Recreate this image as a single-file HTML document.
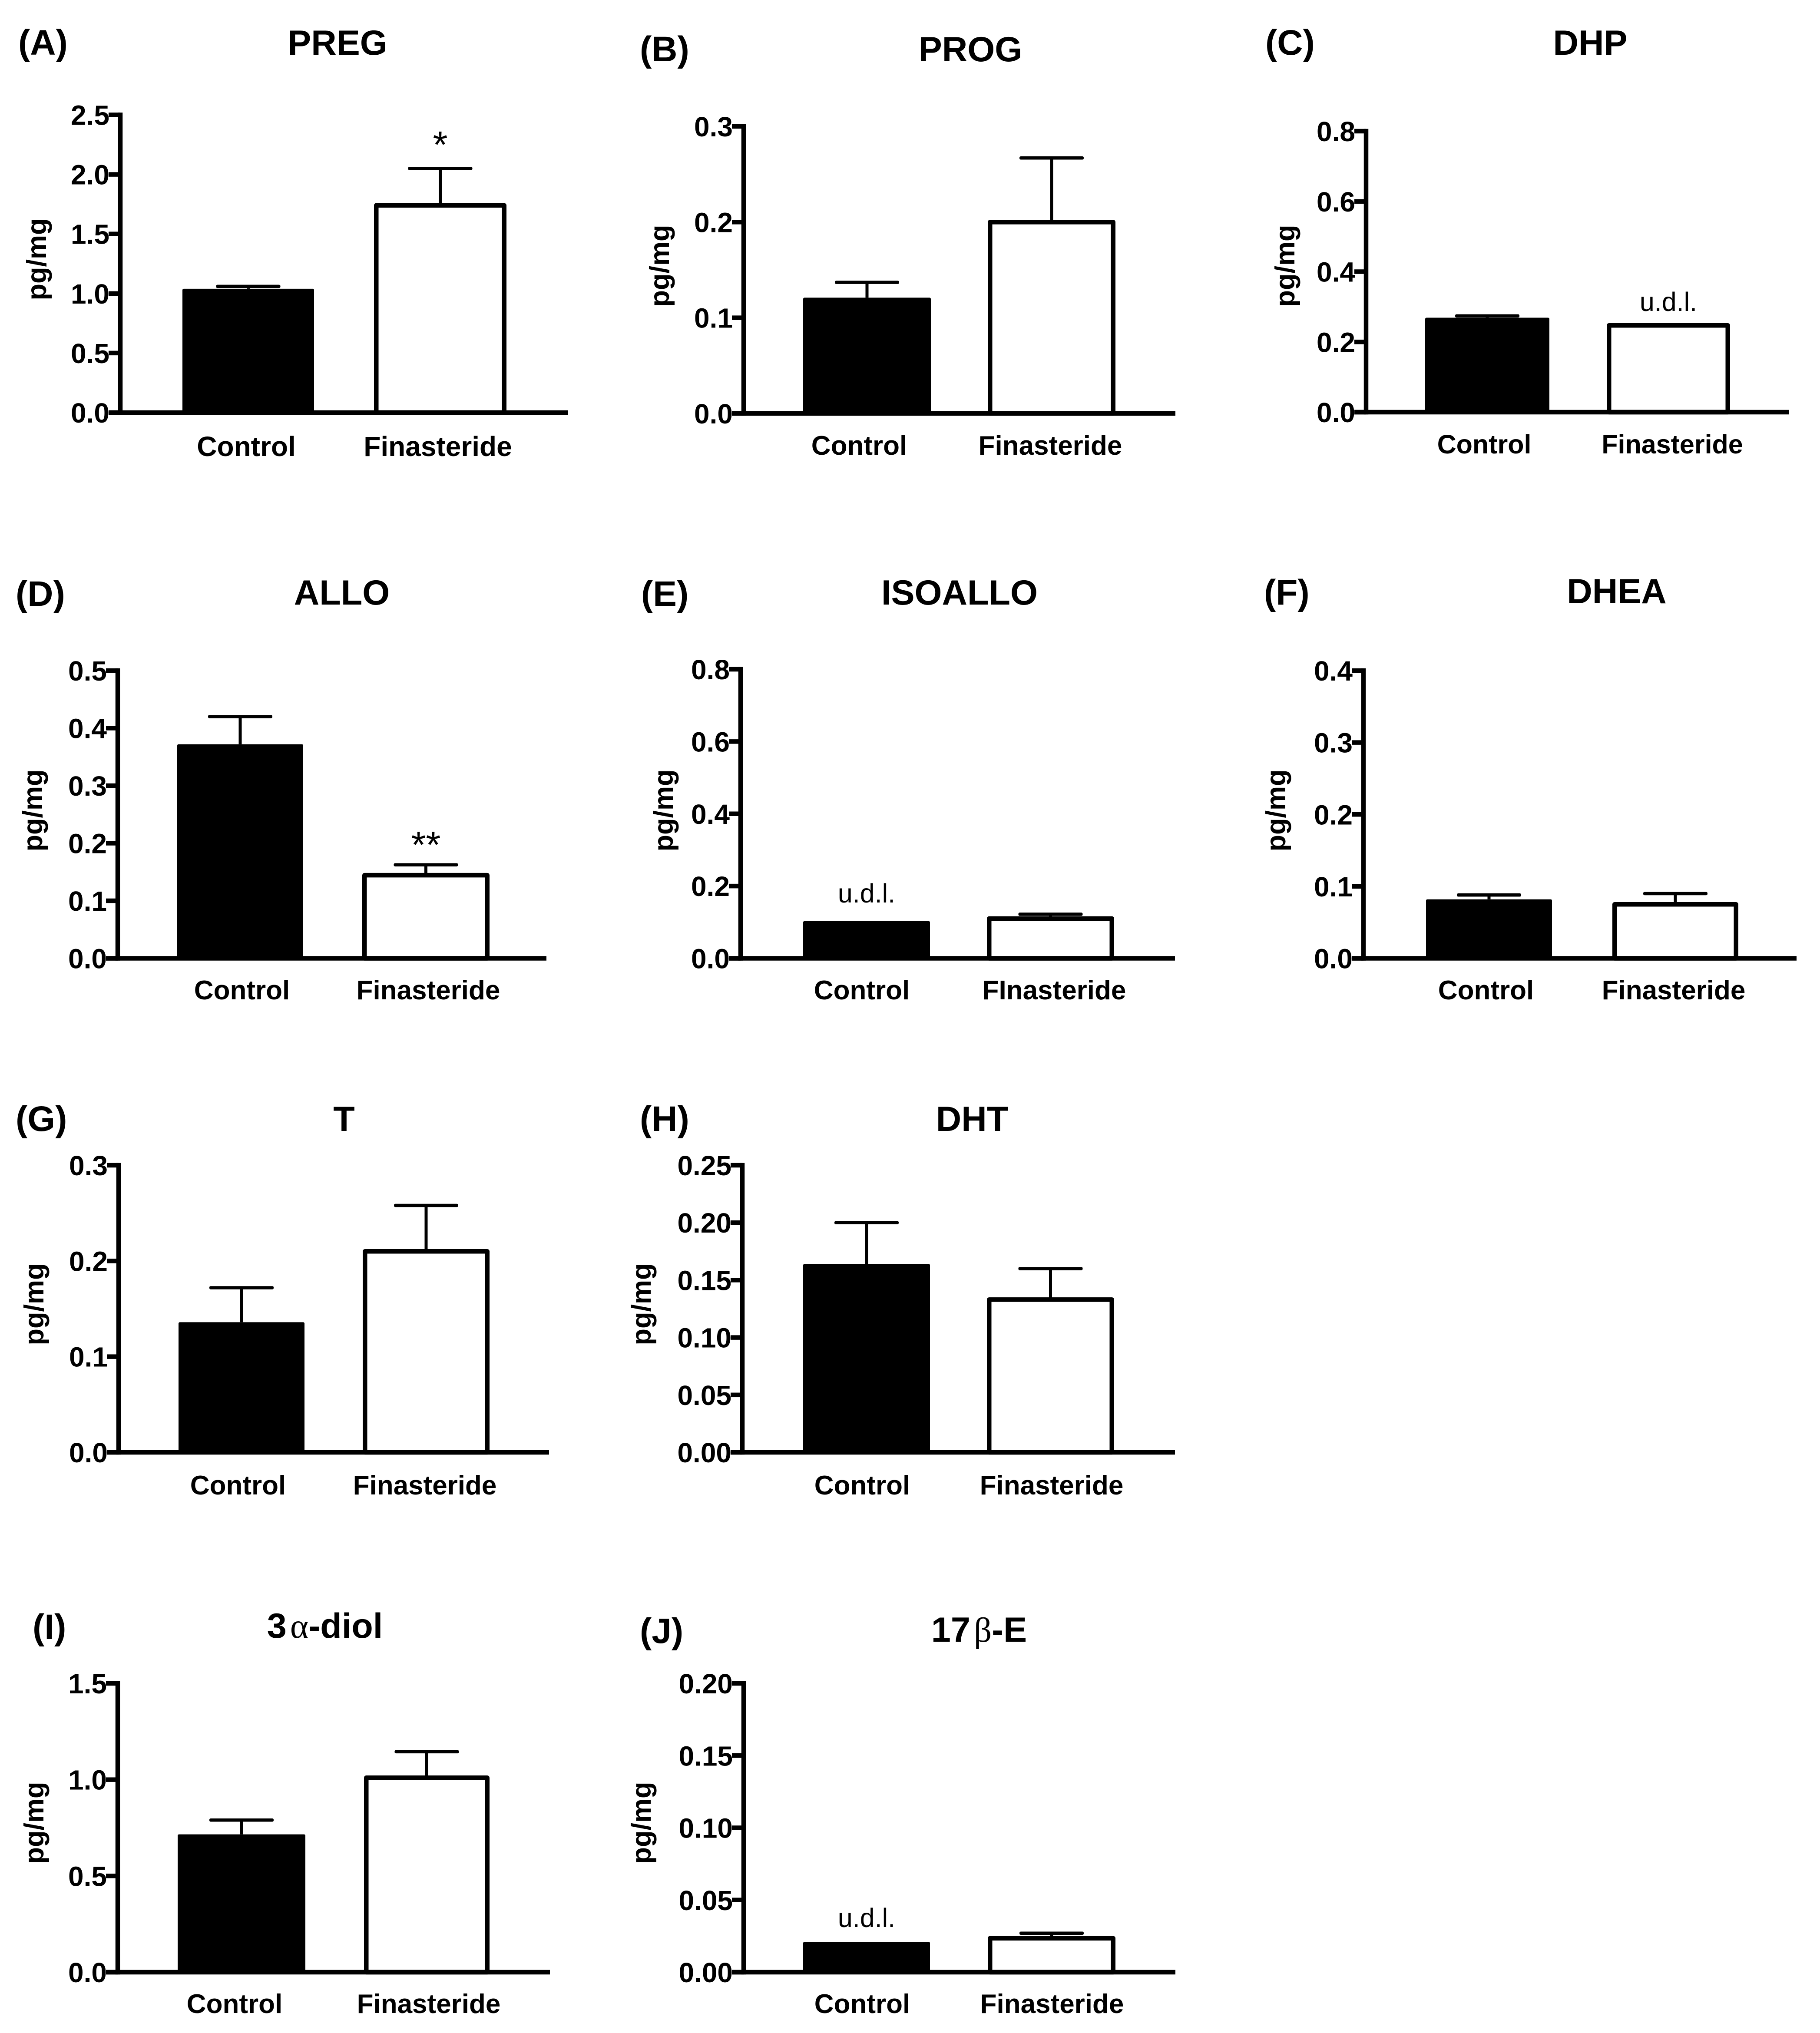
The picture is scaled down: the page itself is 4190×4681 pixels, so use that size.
<!DOCTYPE html>
<html lang="en">
<head>
<meta charset="utf-8">
<title>Neuroactive steroid levels: Control vs Finasteride</title>
<style>
html,body{margin:0;padding:0;background:#fff;}
svg{display:block;}
text{font-family:"Liberation Sans",sans-serif;fill:#000;}
.b{font-weight:700;}
</style>
</head>
<body>
<svg id="figure" xmlns="http://www.w3.org/2000/svg" width="4190" height="4681" viewBox="0 0 4190 4681"></svg>
<script>
// ---- data ----
const panelLetters = ['(A)','(B)','(C)','(D)','(E)','(F)','(G)','(H)','(I)','(J)'];
const panelTitles = ['PREG','PROG','DHP','ALLO','ISOALLO','DHEA','T','DHT','3|α|-diol','17|β|-E'];
const controlLabels = ['Control','Control','Control','Control','Control','Control','Control','Control','Control','Control'];
const finasterideLabels = ['Finasteride','Finasteride','Finasteride','Finasteride','FInasteride','Finasteride','Finasteride','Finasteride','Finasteride','Finasteride'];
const controlValues = [1.04,0.121,0.269,0.372,0.103,0.082,0.136,0.164,0.716,0.021];
const controlErrorTops = [1.06,0.137,0.274,0.42,null,0.088,0.172,0.2,0.79,null];
const finasterideValues = [1.74,0.2,0.247,0.1444,0.11,0.075,0.21,0.133,1.01,0.0235];
const finasterideErrorTops = [2.05,0.267,null,0.1625,0.122,0.09,0.258,0.16,1.145,0.027];
const axisMaxes = [2.5,0.3,0.8,0.5,0.8,0.4,0.3,0.25,1.5,0.2];
const tickLabels = [
  ['0.0','0.5','1.0','1.5','2.0','2.5'],
  ['0.0','0.1','0.2','0.3'],
  ['0.0','0.2','0.4','0.6','0.8'],
  ['0.0','0.1','0.2','0.3','0.4','0.5'],
  ['0.0','0.2','0.4','0.6','0.8'],
  ['0.0','0.1','0.2','0.3','0.4'],
  ['0.0','0.1','0.2','0.3'],
  ['0.00','0.05','0.10','0.15','0.20','0.25'],
  ['0.0','0.5','1.0','1.5'],
  ['0.00','0.05','0.10','0.15','0.20']
];
const controlMarks = ['','','','','u.d.l.','','','','','u.d.l.'];
const finasterideMarks = ['*','','u.d.l.','**','','','','','',''];

// ---- layout (separate from the data) ----
const axisX   = [277,1712,3145,271,1705,3139,273,1709,271,1712];
const baseY   = [950,952,949,2206.5,2206.5,2206.5,3344,3344,4541,4541];
const topY    = [264.5,291,302,1544,1541,1544,2683,2683,3876,3876];
const xEnd    = [1308,2706,4118,1258,2705,4136,1264,2705,1266,2706];
const blackL  = [420,1849,3281,408,1849,3283,411,1849,409,1849];
const blackR  = [723,2143,3567,698,2141,3573,701,2141,703,2141];
const whiteL  = [861,2274,3699,834,2272,3712,835,2272,838,2274];
const whiteR  = [1166,2568,3983,1127,2565,4002,1127,2565,1127,2568];
const letterX = [42,1473,2913,36,1476,2910,36,1473,75,1473];
const letterY = [98,113,98,1367,1367,1364,2576,2576,3746,3755];
const titleX  = [777,2234,3661,787,2209,3722,792,2238,748,2254];
const titleY  = [98,113,98,1364,1364,1361,2576,2576,3743,3752];
const ctlLabX = [567,1978,3417,557,1984,3421,548,1985,540,1985];
const finLabX = [1008,2418,3850,986,2427,3853,978,2421,987,2422];
const xLabY   = [1027,1024,1021,2278,2278,2278,3418,3418,4612,4612];
const xLabSize = [64,62,61,62,62,62,62,62,62,62];
const yLabX   = [90,1524,2964,81,1533,2943,84,1482,84,1482];
const yLabY   = [597,612,612,1866,1866,1866,3003,3003,4197,4197];
const markGap = [25,0,33,16,43,0,0,0,0,34];
const AXIS_W = 10.5, TICK_LEN = 27, ERR_W = 7, CAP_W = 7.5, CAP_LEN = 148;

const svg = document.getElementById('figure');
const NS = 'http://www.w3.org/2000/svg';
function make(tag, parent, attrs){
  const el = document.createElementNS(NS, tag);
  for (const k in attrs) el.setAttribute(k, attrs[k]);
  parent.appendChild(el);
  return el;
}
function yScale(i, v){
  return baseY[i] - (v / axisMaxes[i]) * (baseY[i] - topY[i]);
}
function drawError(g, i, cx, value, top, label){
  if (top === null) return;
  const yTop = yScale(i, value), yCap = yScale(i, top);
  const stem = make('rect', g, {x: cx - ERR_W/2, y: yCap, width: ERR_W, height: yTop - yCap, fill: '#000'});
  
  
  const cap = make('rect', g, {x: cx - CAP_LEN/2, y: yCap - CAP_W/2, width: CAP_LEN, height: CAP_W, rx: 3, fill: '#000'});
  
  
}
function drawMark(g, i, cx, text, value, top, label){
  if (!text) return;
  const y = yScale(i, top === null ? value : top) - markGap[i];
  if (text === 'u.d.l.'){
    const t = make('text', g, {x: cx, y: y, 'text-anchor': 'middle', 'font-size': 61});
    t.textContent = text;
    
    
  } else {
    const t = make('text', g, {x: cx, y: y, 'text-anchor': 'middle', 'font-size': 87});
    t.textContent = text;
    
    
  }
}
panelTitles.forEach(function(title, i){
  const plain = title.replace(/\|/g, '');
  const g = make('g', svg, {});
  
  

  const letter = make('text', g, {x: letterX[i], y: letterY[i] + 28, 'font-size': 82, class: 'b'});
  letter.textContent = panelLetters[i];
  
  

  const titleEl = make('text', g, {x: titleX[i], y: titleY[i] + 28, 'text-anchor': 'middle', 'font-size': 81, class: 'b'});
  
  
  title.split('|').forEach(function(part, k){
    const s = make('tspan', titleEl, {});
    s.textContent = part;
    if (k === 1){
      s.setAttribute('style', 'font-family:"Liberation Serif",serif;font-weight:400;');
      s.setAttribute('dx', '8');
    }
  });

  // bars
  const cb = make('rect', g, {x: blackL[i], y: yScale(i, controlValues[i]), width: blackR[i]-blackL[i], height: baseY[i]-yScale(i, controlValues[i]), rx: 3, fill: '#000'});
  
  
  const cx1 = (blackL[i]+blackR[i])/2, cx2 = (whiteL[i]+whiteR[i])/2;
  drawError(g, i, cx1, controlValues[i], controlErrorTops[i], 'control');
  drawError(g, i, cx2, finasterideValues[i], finasterideErrorTops[i], 'finasteride');
  const fy = yScale(i, finasterideValues[i]);
  const fb = make('rect', g, {x: whiteL[i]+AXIS_W/2, y: fy, width: whiteR[i]-whiteL[i]-AXIS_W, height: baseY[i]-fy, fill: '#fff', stroke: '#000', 'stroke-width': AXIS_W, 'stroke-linejoin': 'round'});
  
  
  drawMark(g, i, cx1, controlMarks[i], controlValues[i], controlErrorTops[i], 'control');
  drawMark(g, i, cx2, finasterideMarks[i], finasterideValues[i], finasterideErrorTops[i], 'finasteride');

  // axes
  const ya = make('rect', g, {x: axisX[i]-AXIS_W/2, y: topY[i]-AXIS_W/2, width: AXIS_W, height: baseY[i]-topY[i]+AXIS_W, fill: '#000'});
  
  
  const xa = make('rect', g, {x: axisX[i]-TICK_LEN, y: baseY[i]-AXIS_W/2, width: xEnd[i]-axisX[i]+TICK_LEN, height: AXIS_W, fill: '#000'});
  
  

  tickLabels[i].forEach(function(label){
    const y = yScale(i, Number(label));
    const tick = make('rect', g, {x: axisX[i]-TICK_LEN, y: y-AXIS_W/2, width: TICK_LEN, height: AXIS_W, fill: '#000'});
    
    
    const t = make('text', g, {x: axisX[i]-TICK_LEN+2, y: y+23, 'text-anchor': 'end', 'font-size': 64, class: 'b'});
    t.textContent = label;
    
    
  });

  const c = make('text', g, {x: ctlLabX[i], y: xLabY[i]+23, 'text-anchor': 'middle', 'font-size': xLabSize[i], class: 'b'});
  c.textContent = controlLabels[i];
  
  
  const f = make('text', g, {x: finLabX[i], y: xLabY[i]+23, 'text-anchor': 'middle', 'font-size': xLabSize[i], class: 'b'});
  f.textContent = finasterideLabels[i];
  
  

  const yt = make('text', g, {transform: 'translate(' + (yLabX[i]+16) + ',' + yLabY[i] + ') rotate(-90)', 'text-anchor': 'middle', 'font-size': 63, class: 'b'});
  yt.textContent = 'pg/mg';
  
  
});
</script>
</body>
</html>
